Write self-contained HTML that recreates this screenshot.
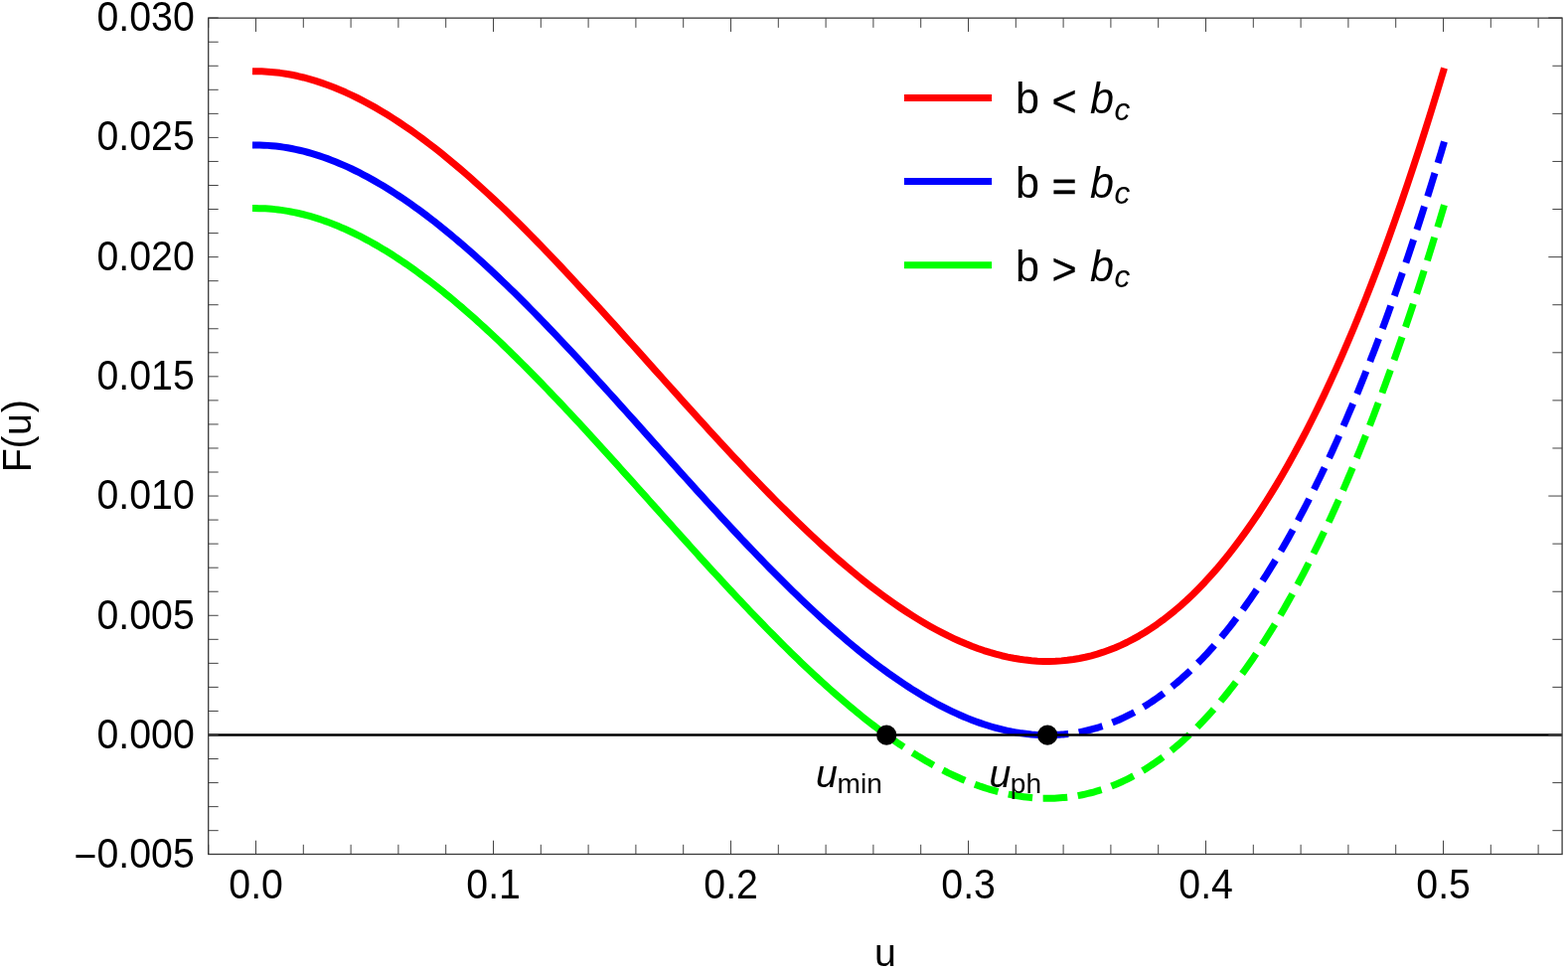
<!DOCTYPE html>
<html><head><meta charset="utf-8"><title>F(u)</title>
<style>
html,body{margin:0;padding:0;background:#fff;}
body{width:1578px;height:978px;overflow:hidden;}
svg{display:block;font-family:"Liberation Sans",sans-serif;}
.t{font-size:39.3px;fill:#000;}
.l{font-size:43.2px;fill:#000;}
.i{font-style:italic;}
</style></head><body>
<svg width="1578" height="978" viewBox="0 0 1578 978">
<rect x="0" y="0" width="1578" height="978" fill="#fff"/>

<g fill="none" stroke-width="7.0" stroke-linejoin="round" stroke-linecap="square" transform="translate(0,0.35)">
<path d="M257.50,71.41 L263.51,71.51 L269.51,71.81 L275.52,72.31 L281.52,73.00 L287.53,73.88 L293.53,74.94 L299.54,76.20 L305.54,77.63 L311.55,79.24 L317.55,81.02 L323.56,82.98 L329.56,85.10 L335.57,87.40 L341.57,89.85 L347.58,92.46 L353.58,95.23 L359.59,98.16 L365.59,101.23 L371.60,104.45 L377.60,107.82 L383.61,111.33 L389.61,114.97 L395.62,118.76 L401.62,122.67 L407.63,126.71 L413.63,130.88 L419.64,135.17 L425.64,139.58 L431.65,144.11 L437.65,148.75 L443.66,153.51 L449.66,158.37 L455.67,163.34 L461.67,168.40 L467.68,173.57 L473.68,178.83 L479.69,184.19 L485.69,189.63 L491.70,195.16 L497.70,200.78 L503.71,206.47 L509.71,212.24 L515.72,218.09 L521.72,224.00 L527.73,229.99 L533.73,236.04 L539.74,242.15 L545.74,248.32 L551.75,254.55 L557.75,260.83 L563.76,267.16 L569.76,273.54 L575.77,279.96 L581.77,286.42 L587.78,292.92 L593.78,299.45 L599.79,306.01 L605.79,312.61 L611.80,319.23 L617.80,325.87 L623.81,332.53 L629.81,339.20 L635.82,345.89 L641.82,352.59 L647.83,359.30 L653.83,366.01 L659.84,372.73 L665.84,379.44 L671.85,386.14 L677.85,392.84 L683.86,399.52 L689.86,406.20 L695.87,412.85 L701.87,419.48 L707.88,426.09 L713.88,432.68 L719.89,439.23 L725.89,445.76 L731.90,452.24 L737.90,458.69 L743.91,465.10 L749.91,471.46 L755.92,477.77 L761.92,484.03 L767.93,490.24 L773.93,496.39 L779.94,502.49 L785.94,508.51 L791.95,514.48 L797.95,520.37 L803.96,526.19 L809.96,531.94 L815.97,537.61 L821.97,543.19 L827.98,548.70 L833.98,554.11 L839.99,559.43 L845.99,564.66 L852.00,569.80 L858.00,574.83 L864.01,579.76 L870.01,584.59 L876.02,589.31 L882.02,593.91 L888.03,598.40 L894.03,602.77 L900.04,607.02 L906.04,611.15 L912.05,615.15 L918.05,619.02 L924.06,622.76 L930.06,626.36 L936.07,629.82 L942.07,633.14 L948.08,636.31 L954.08,639.34 L960.09,642.21 L966.09,644.93 L972.10,647.49 L978.10,649.89 L984.11,652.12 L990.11,654.19 L996.12,656.09 L1002.12,657.82 L1008.13,659.37 L1014.13,660.74 L1020.14,661.93 L1026.14,662.94 L1032.15,663.75 L1038.15,664.38 L1044.16,664.81 L1050.16,665.05 L1056.17,665.08 L1062.17,664.91 L1068.18,664.53 L1074.18,663.95 L1080.19,663.15 L1086.19,662.13 L1092.20,660.90 L1098.20,659.45 L1104.21,657.77 L1110.21,655.86 L1116.22,653.72 L1122.22,651.35 L1128.23,648.74 L1134.23,645.89 L1140.24,642.80 L1146.24,639.47 L1152.25,635.88 L1158.25,632.04 L1164.26,627.94 L1170.26,623.59 L1176.27,618.98 L1182.27,614.10 L1188.28,608.95 L1194.28,603.54 L1200.29,597.85 L1206.29,591.88 L1212.30,585.63 L1218.30,579.10 L1224.31,572.29 L1230.31,565.18 L1236.32,557.79 L1242.32,550.10 L1248.33,542.11 L1254.33,533.82 L1260.34,525.23 L1266.34,516.33 L1272.35,507.11 L1278.35,497.59 L1284.36,487.75 L1290.36,477.59 L1296.37,467.11 L1302.37,456.30 L1308.38,445.16 L1314.38,433.70 L1320.39,421.89 L1326.39,409.75 L1332.40,397.27 L1338.40,384.45 L1344.41,371.28 L1350.41,357.76 L1356.42,343.88 L1362.42,329.65 L1368.43,315.06 L1374.43,300.11 L1380.44,284.79 L1386.44,269.11 L1392.45,253.05 L1398.45,236.62 L1404.46,219.82 L1410.46,202.63 L1416.47,185.06 L1422.47,167.10 L1428.48,148.75 L1434.48,130.02 L1440.49,110.88 L1446.49,91.35 L1452.50,71.41" stroke="#f00"/>
<path d="M257.50,145.62 L261.50,145.67 L265.51,145.80 L269.51,146.02 L273.51,146.33 L277.52,146.73 L281.52,147.21 L285.52,147.77 L289.53,148.42 L293.53,149.15 L297.53,149.97 L301.54,150.86 L305.54,151.84 L309.54,152.89 L313.55,154.02 L317.55,155.23 L321.55,156.52 L325.56,157.88 L329.56,159.31 L333.56,160.82 L337.57,162.41 L341.57,164.06 L345.57,165.78 L349.58,167.58 L353.58,169.44 L357.58,171.38 L361.59,173.38 L365.59,175.44 L369.59,177.57 L373.60,179.77 L377.60,182.03 L381.60,184.35 L385.61,186.74 L389.61,189.18 L393.61,191.69 L397.62,194.25 L401.62,196.88 L405.62,199.56 L409.63,202.30 L413.63,205.09 L417.63,207.94 L421.64,210.84 L425.64,213.79 L429.64,216.80 L433.65,219.86 L437.65,222.96 L441.65,226.12 L445.66,229.33 L449.66,232.58 L453.66,235.88 L457.67,239.22 L461.67,242.61 L465.67,246.05 L469.68,249.52 L473.68,253.04 L477.68,256.60 L481.69,260.20 L485.69,263.84 L489.69,267.52 L493.70,271.23 L497.70,274.98 L501.70,278.77 L505.71,282.59 L509.71,286.45 L513.71,290.34 L517.72,294.26 L521.72,298.21 L525.72,302.20 L529.73,306.21 L533.73,310.25 L537.73,314.32 L541.74,318.41 L545.74,322.53 L549.74,326.68 L553.75,330.85 L557.75,335.04 L561.75,339.25 L565.76,343.49 L569.76,347.75 L573.76,352.02 L577.77,356.32 L581.77,360.63 L585.77,364.96 L589.78,369.30 L593.78,373.66 L597.78,378.03 L601.79,382.42 L605.79,386.82 L609.79,391.23 L613.80,395.65 L617.80,400.08 L621.80,404.52 L625.81,408.96 L629.81,413.41 L633.81,417.87 L637.82,422.34 L641.82,426.80 L645.82,431.28 L649.83,435.75 L653.83,440.22 L657.84,444.70 L661.84,449.17 L665.84,453.65 L669.85,458.12 L673.85,462.58 L677.85,467.05 L681.86,471.51 L685.86,475.96 L689.86,480.41 L693.87,484.84 L697.87,489.27 L701.87,493.69 L705.88,498.10 L709.88,502.50 L713.88,506.89 L717.89,511.26 L721.89,515.62 L725.89,519.96 L729.90,524.29 L733.90,528.61 L737.90,532.90 L741.91,537.17 L745.91,541.43 L749.91,545.67 L753.92,549.88 L757.92,554.07 L761.92,558.24 L765.93,562.39 L769.93,566.51 L773.93,570.60 L777.94,574.67 L781.94,578.71 L785.94,582.72 L789.95,586.71 L793.95,590.66 L797.95,594.58 L801.96,598.47 L805.96,602.33 L809.96,606.15 L813.97,609.94 L817.97,613.69 L821.97,617.40 L825.98,621.08 L829.98,624.72 L833.98,628.32 L837.99,631.88 L841.99,635.40 L845.99,638.87 L850.00,642.31 L854.00,645.70 L858.00,649.04 L862.01,652.34 L866.01,655.59 L870.01,658.80 L874.02,661.96 L878.02,665.06 L882.02,668.12 L886.03,671.13 L890.03,674.08 L894.03,676.98 L898.04,679.83 L902.04,682.62 L906.04,685.36 L910.05,688.04 L914.05,690.67 L918.05,693.23 L922.06,695.74 L926.06,698.18 L930.06,700.57 L934.07,702.89 L938.07,705.15 L942.07,707.35 L946.08,709.48 L950.08,711.55 L954.08,713.55 L958.09,715.48 L962.09,717.34 L966.09,719.14 L970.10,720.86 L974.10,722.52 L978.10,724.10 L982.11,725.61 L986.11,727.04 L990.11,728.40 L994.12,729.69 L998.12,730.90 L1002.12,732.03 L1006.13,733.08 L1010.13,734.06 L1014.13,734.95 L1018.14,735.77 L1022.14,736.50 L1026.14,737.15 L1030.15,737.71 L1034.15,738.19 L1038.15,738.59 L1042.16,738.90 L1046.16,739.12 L1050.16,739.26 L1054.17,739.30" stroke="#00f"/>
<path d="M1054.17,739.30 L1056.17,739.29 L1058.17,739.25 L1060.17,739.20 L1062.17,739.12 L1064.18,739.02 L1066.18,738.89 L1068.18,738.74 L1070.18,738.57 L1072.18,738.38 L1074.18,738.16 L1076.19,737.91 L1078.19,737.65 L1080.19,737.36 L1082.19,737.04 L1084.19,736.71 L1086.19,736.34 L1088.20,735.96 L1090.20,735.55 L1092.20,735.11 L1094.20,734.65 L1096.20,734.17 L1098.20,733.66 L1100.21,733.12 L1102.21,732.56 L1104.21,731.98 L1106.21,731.37 L1108.21,730.73 L1110.21,730.07 L1112.22,729.38 L1114.22,728.67 L1116.22,727.93 L1118.22,727.17 L1120.22,726.38 L1122.22,725.56 L1124.23,724.72 L1126.23,723.85 L1128.23,722.95 L1130.23,722.03 L1132.23,721.08 L1134.23,720.10 L1136.24,719.10 L1138.24,718.07 L1140.24,717.01 L1142.24,715.93 L1144.24,714.82 L1146.24,713.68 L1148.25,712.51 L1150.25,711.31 L1152.25,710.09 L1154.25,708.84 L1156.25,707.56 L1158.25,706.25 L1160.26,704.91 L1162.26,703.55 L1164.26,702.15 L1166.26,700.73 L1168.26,699.28 L1170.26,697.80 L1172.27,696.29 L1174.27,694.75 L1176.27,693.19 L1178.27,691.59 L1180.27,689.96 L1182.27,688.31 L1184.28,686.62 L1186.28,684.91 L1188.28,683.16 L1190.28,681.39 L1192.28,679.58 L1194.28,677.75 L1196.29,675.88 L1198.29,673.98 L1200.29,672.06 L1202.29,670.10 L1204.29,668.11 L1206.29,666.09 L1208.30,664.04 L1210.30,661.96 L1212.30,659.84 L1214.30,657.70 L1216.30,655.52 L1218.30,653.31 L1220.31,651.07 L1222.31,648.80 L1224.31,646.50 L1226.31,644.16 L1228.31,641.79 L1230.31,639.39 L1232.32,636.96 L1234.32,634.50 L1236.32,632.00 L1238.32,629.47 L1240.32,626.90 L1242.32,624.31 L1244.33,621.68 L1246.33,619.02 L1248.33,616.32 L1250.33,613.59 L1252.33,610.83 L1254.33,608.03 L1256.34,605.20 L1258.34,602.33 L1260.34,599.44 L1262.34,596.50 L1264.34,593.54 L1266.34,590.54 L1268.35,587.50 L1270.35,584.43 L1272.35,581.32 L1274.35,578.18 L1276.35,575.01 L1278.35,571.80 L1280.36,568.56 L1282.36,565.27 L1284.36,561.96 L1286.36,558.61 L1288.36,555.22 L1290.36,551.80 L1292.37,548.34 L1294.37,544.85 L1296.37,541.32 L1298.37,537.75 L1300.37,534.15 L1302.37,530.51 L1304.38,526.83 L1306.38,523.12 L1308.38,519.37 L1310.38,515.59 L1312.38,511.76 L1314.38,507.91 L1316.39,504.01 L1318.39,500.07 L1320.39,496.10 L1322.39,492.09 L1324.39,488.05 L1326.39,483.96 L1328.40,479.84 L1330.40,475.68 L1332.40,471.48 L1334.40,467.25 L1336.40,462.97 L1338.40,458.66 L1340.41,454.31 L1342.41,449.92 L1344.41,445.49 L1346.41,441.02 L1348.41,436.51 L1350.41,431.96 L1352.42,427.38 L1354.42,422.75 L1356.42,418.09 L1358.42,413.39 L1360.42,408.64 L1362.42,403.86 L1364.43,399.04 L1366.43,394.17 L1368.43,389.27 L1370.43,384.33 L1372.43,379.34 L1374.43,374.32 L1376.44,369.26 L1378.44,364.15 L1380.44,359.00 L1382.44,353.82 L1384.44,348.59 L1386.44,343.32 L1388.45,338.01 L1390.45,332.66 L1392.45,327.26 L1394.45,321.83 L1396.45,316.35 L1398.45,310.83 L1400.46,305.27 L1402.46,299.67 L1404.46,294.03 L1406.46,288.34 L1408.46,282.61 L1410.46,276.84 L1412.47,271.03 L1414.47,265.17 L1416.47,259.27 L1418.47,253.33 L1420.47,247.34 L1422.47,241.31 L1424.48,235.24 L1426.48,229.12 L1428.48,222.96 L1430.48,216.76 L1432.48,210.52 L1434.48,204.23 L1436.49,197.89 L1438.49,191.51 L1440.49,185.09 L1442.49,178.62 L1444.49,172.11 L1446.49,165.56 L1448.50,158.96 L1450.50,152.31 L1452.50,145.62" stroke="#00f" stroke-dasharray="17.59 17.59"/>
<path d="M257.50,209.25 L260.69,209.28 L263.88,209.36 L267.07,209.50 L270.26,209.70 L273.45,209.95 L276.64,210.26 L279.83,210.62 L283.02,211.04 L286.20,211.51 L289.39,212.03 L292.58,212.60 L295.77,213.23 L298.96,213.91 L302.15,214.64 L305.34,215.42 L308.53,216.25 L311.72,217.13 L314.91,218.05 L318.10,219.03 L321.29,220.06 L324.48,221.13 L327.67,222.25 L330.86,223.42 L334.05,224.64 L337.23,225.90 L340.42,227.21 L343.61,228.56 L346.80,229.96 L349.99,231.40 L353.18,232.88 L356.37,234.41 L359.56,235.98 L362.75,237.60 L365.94,239.25 L369.13,240.95 L372.32,242.69 L375.51,244.47 L378.70,246.29 L381.89,248.15 L385.08,250.05 L388.26,251.98 L391.45,253.96 L394.64,255.97 L397.83,258.02 L401.02,260.11 L404.21,262.24 L407.40,264.40 L410.59,266.59 L413.78,268.82 L416.97,271.09 L420.16,273.39 L423.35,275.72 L426.54,278.09 L429.73,280.49 L432.92,282.92 L436.11,285.39 L439.30,287.88 L442.48,290.41 L445.67,292.97 L448.86,295.56 L452.05,298.17 L455.24,300.82 L458.43,303.50 L461.62,306.20 L464.81,308.93 L468.00,311.69 L471.19,314.48 L474.38,317.29 L477.57,320.13 L480.76,322.99 L483.95,325.88 L487.14,328.79 L490.33,331.73 L493.51,334.69 L496.70,337.68 L499.89,340.68 L503.08,343.71 L506.27,346.77 L509.46,349.84 L512.65,352.93 L515.84,356.05 L519.03,359.18 L522.22,362.34 L525.41,365.51 L528.60,368.70 L531.79,371.91 L534.98,375.14 L538.17,378.39 L541.36,381.65 L544.55,384.93 L547.73,388.22 L550.92,391.53 L554.11,394.86 L557.30,398.20 L560.49,401.55 L563.68,404.92 L566.87,408.30 L570.06,411.69 L573.25,415.10 L576.44,418.52 L579.63,421.95 L582.82,425.39 L586.01,428.84 L589.20,432.30 L592.39,435.77 L595.58,439.25 L598.76,442.73 L601.95,446.23 L605.14,449.73 L608.33,453.24 L611.52,456.76 L614.71,460.29 L617.90,463.82 L621.09,467.35 L624.28,470.89 L627.47,474.44 L630.66,477.99 L633.85,481.54 L637.04,485.09 L640.23,488.65 L643.42,492.21 L646.61,495.78 L649.79,499.34 L652.98,502.90 L656.17,506.47 L659.36,510.03 L662.55,513.60 L665.74,517.16 L668.93,520.73 L672.12,524.29 L675.31,527.84 L678.50,531.40 L681.69,534.95 L684.88,538.50 L688.07,542.04 L691.26,545.58 L694.45,549.12 L697.64,552.64 L700.83,556.17 L704.01,559.68 L707.20,563.19 L710.39,566.70 L713.58,570.19 L716.77,573.68 L719.96,577.15 L723.15,580.62 L726.34,584.08 L729.53,587.53 L732.72,590.97 L735.91,594.39 L739.10,597.81 L742.29,601.21 L745.48,604.60 L748.67,607.98 L751.86,611.34 L755.04,614.70 L758.23,618.03 L761.42,621.35 L764.61,624.66 L767.80,627.95 L770.99,631.23 L774.18,634.49 L777.37,637.73 L780.56,640.95 L783.75,644.16 L786.94,647.35 L790.13,650.52 L793.32,653.67 L796.51,656.80 L799.70,659.91 L802.89,663.00 L806.07,666.07 L809.26,669.11 L812.45,672.14 L815.64,675.14 L818.83,678.12 L822.02,681.08 L825.21,684.01 L828.40,686.92 L831.59,689.80 L834.78,692.66 L837.97,695.49 L841.16,698.30 L844.35,701.08 L847.54,703.83 L850.73,706.56 L853.92,709.26 L857.11,711.93 L860.29,714.57 L863.48,717.18 L866.67,719.76 L869.86,722.31 L873.05,724.83 L876.24,727.32 L879.43,729.78 L882.62,732.20 L885.81,734.60 L889.00,736.96 L892.19,739.28" stroke="#0f0"/>
<path d="M892.19,739.28 L895.00,741.31 L897.82,743.31 L900.64,745.28 L903.45,747.22 L906.27,749.14 L909.08,751.03 L911.90,752.89 L914.71,754.72 L917.53,756.53 L920.34,758.30 L923.16,760.05 L925.98,761.76 L928.79,763.45 L931.61,765.10 L934.42,766.72 L937.24,768.32 L940.05,769.88 L942.87,771.41 L945.69,772.90 L948.50,774.37 L951.32,775.80 L954.13,777.20 L956.95,778.56 L959.76,779.90 L962.58,781.19 L965.39,782.46 L968.21,783.69 L971.03,784.88 L973.84,786.04 L976.66,787.16 L979.47,788.25 L982.29,789.30 L985.10,790.32 L987.92,791.30 L990.74,792.24 L993.55,793.14 L996.37,794.01 L999.18,794.84 L1002.00,795.63 L1004.81,796.38 L1007.63,797.09 L1010.45,797.76 L1013.26,798.39 L1016.08,798.99 L1018.89,799.54 L1021.71,800.05 L1024.52,800.52 L1027.34,800.95 L1030.15,801.34 L1032.97,801.69 L1035.79,802.00 L1038.60,802.26 L1041.42,802.48 L1044.23,802.65 L1047.05,802.79 L1049.86,802.88 L1052.68,802.92 L1055.50,802.92 L1058.31,802.88 L1061.13,802.79 L1063.94,802.66 L1066.76,802.48 L1069.57,802.25 L1072.39,801.98 L1075.20,801.67 L1078.02,801.30 L1080.84,800.89 L1083.65,800.43 L1086.47,799.92 L1089.28,799.37 L1092.10,798.76 L1094.91,798.11 L1097.73,797.41 L1100.55,796.66 L1103.36,795.86 L1106.18,795.01 L1108.99,794.11 L1111.81,793.16 L1114.62,792.15 L1117.44,791.10 L1120.25,789.99 L1123.07,788.84 L1125.89,787.63 L1128.70,786.37 L1131.52,785.05 L1134.33,783.68 L1137.15,782.26 L1139.96,780.79 L1142.78,779.26 L1145.60,777.68 L1148.41,776.04 L1151.23,774.35 L1154.04,772.60 L1156.86,770.79 L1159.67,768.93 L1162.49,767.02 L1165.31,765.04 L1168.12,763.01 L1170.94,760.93 L1173.75,758.78 L1176.57,756.58 L1179.38,754.32 L1182.20,752.00 L1185.01,749.62 L1187.83,747.19 L1190.65,744.69 L1193.46,742.13 L1196.28,739.52 L1199.09,736.84 L1201.91,734.10 L1204.72,731.31 L1207.54,728.45 L1210.36,725.52 L1213.17,722.54 L1215.99,719.50 L1218.80,716.39 L1221.62,713.22 L1224.43,709.98 L1227.25,706.69 L1230.06,703.32 L1232.88,699.90 L1235.70,696.41 L1238.51,692.85 L1241.33,689.23 L1244.14,685.55 L1246.96,681.80 L1249.77,677.98 L1252.59,674.10 L1255.41,670.15 L1258.22,666.13 L1261.04,662.05 L1263.85,657.90 L1266.67,653.68 L1269.48,649.39 L1272.30,645.03 L1275.11,640.61 L1277.93,636.11 L1280.75,631.55 L1283.56,626.91 L1286.38,622.21 L1289.19,617.44 L1292.01,612.59 L1294.82,607.67 L1297.64,602.69 L1300.46,597.63 L1303.27,592.50 L1306.09,587.29 L1308.90,582.02 L1311.72,576.67 L1314.53,571.24 L1317.35,565.75 L1320.17,560.18 L1322.98,554.53 L1325.80,548.82 L1328.61,543.02 L1331.43,537.15 L1334.24,531.21 L1337.06,525.19 L1339.87,519.09 L1342.69,512.92 L1345.51,506.67 L1348.32,500.35 L1351.14,493.94 L1353.95,487.46 L1356.77,480.90 L1359.58,474.27 L1362.40,467.55 L1365.22,460.75 L1368.03,453.88 L1370.85,446.93 L1373.66,439.89 L1376.48,432.78 L1379.29,425.59 L1382.11,418.31 L1384.92,410.95 L1387.74,403.52 L1390.56,396.00 L1393.37,388.40 L1396.19,380.71 L1399.00,372.95 L1401.82,365.10 L1404.63,357.16 L1407.45,349.15 L1410.27,341.05 L1413.08,332.86 L1415.90,324.59 L1418.71,316.24 L1421.53,307.80 L1424.34,299.27 L1427.16,290.66 L1429.97,281.97 L1432.79,273.18 L1435.61,264.31 L1438.42,255.35 L1441.24,246.31 L1444.05,237.18 L1446.87,227.96 L1449.68,218.65 L1452.50,209.25" stroke="#0f0" stroke-dasharray="17.59 17.59"/>
</g>
<line x1="209.7" y1="739.50" x2="1572.1" y2="739.50" stroke="#000" stroke-width="2.5"/>
<circle cx="892.19" cy="739.70" r="10.1" fill="#000"/>
<circle cx="1054.17" cy="739.70" r="10.1" fill="#000"/>
<rect x="209.7" y="18.15" width="1362.3999999999999" height="841.35" fill="none" stroke="#3a3a3a" stroke-width="1.3"/>
<path d="M209.70,859.5v-9.7M209.70,18.15v9.7M257.50,859.5v-13.8M257.50,18.15v13.8M305.30,859.5v-9.7M305.30,18.15v9.7M353.10,859.5v-9.7M353.10,18.15v9.7M400.90,859.5v-9.7M400.90,18.15v9.7M448.70,859.5v-9.7M448.70,18.15v9.7M496.50,859.5v-13.8M496.50,18.15v13.8M544.30,859.5v-9.7M544.30,18.15v9.7M592.10,859.5v-9.7M592.10,18.15v9.7M639.90,859.5v-9.7M639.90,18.15v9.7M687.70,859.5v-9.7M687.70,18.15v9.7M735.50,859.5v-13.8M735.50,18.15v13.8M783.30,859.5v-9.7M783.30,18.15v9.7M831.10,859.5v-9.7M831.10,18.15v9.7M878.90,859.5v-9.7M878.90,18.15v9.7M926.70,859.5v-9.7M926.70,18.15v9.7M974.50,859.5v-13.8M974.50,18.15v13.8M1022.30,859.5v-9.7M1022.30,18.15v9.7M1070.10,859.5v-9.7M1070.10,18.15v9.7M1117.90,859.5v-9.7M1117.90,18.15v9.7M1165.70,859.5v-9.7M1165.70,18.15v9.7M1213.50,859.5v-13.8M1213.50,18.15v13.8M1261.30,859.5v-9.7M1261.30,18.15v9.7M1309.10,859.5v-9.7M1309.10,18.15v9.7M1356.90,859.5v-9.7M1356.90,18.15v9.7M1404.70,859.5v-9.7M1404.70,18.15v9.7M1452.50,859.5v-13.8M1452.50,18.15v13.8M1500.30,859.5v-9.7M1500.30,18.15v9.7M1548.10,859.5v-9.7M1548.10,18.15v9.7M209.7,859.52h10M209.7,835.68h10M1572.1,835.68h-9.7M209.7,811.63h10M209.7,787.59h10M1572.1,787.59h-9.7M209.7,763.54h10M209.7,739.50h10M1572.1,739.50h-13.8M209.7,715.46h10M209.7,691.41h10M1572.1,691.41h-9.7M209.7,667.37h10M209.7,643.32h10M1572.1,643.32h-9.7M209.7,619.28h10M209.7,595.24h10M1572.1,595.24h-9.7M209.7,571.19h10M209.7,547.15h10M1572.1,547.15h-9.7M209.7,523.10h10M209.7,499.06h10M1572.1,499.06h-13.8M209.7,475.02h10M209.7,450.97h10M1572.1,450.97h-9.7M209.7,426.93h10M209.7,402.88h10M1572.1,402.88h-9.7M209.7,378.84h10M209.7,354.80h10M1572.1,354.80h-9.7M209.7,330.75h10M209.7,306.71h10M1572.1,306.71h-9.7M209.7,282.66h10M209.7,258.62h10M1572.1,258.62h-13.8M209.7,234.58h10M209.7,210.53h10M1572.1,210.53h-9.7M209.7,186.49h10M209.7,162.44h10M1572.1,162.44h-9.7M209.7,138.40h10M209.7,114.36h10M1572.1,114.36h-9.7M209.7,90.31h10M209.7,66.27h10M1572.1,66.27h-9.7M209.7,42.22h10M209.7,17.98h10M1572.1,17.98h-13.8" fill="none" stroke="#3a3a3a" stroke-width="0.95"/>
<text class="t" transform="translate(257.60,904.40) scale(1,1.088)" text-anchor="middle">0.0</text>
<text class="t" transform="translate(496.60,904.40) scale(1,1.088)" text-anchor="middle">0.1</text>
<text class="t" transform="translate(735.60,904.40) scale(1,1.088)" text-anchor="middle">0.2</text>
<text class="t" transform="translate(974.60,904.40) scale(1,1.088)" text-anchor="middle">0.3</text>
<text class="t" transform="translate(1213.60,904.40) scale(1,1.088)" text-anchor="middle">0.4</text>
<text class="t" transform="translate(1452.60,904.40) scale(1,1.088)" text-anchor="middle">0.5</text>
<text class="t" transform="translate(195.80,873.07) scale(1,1.088)" text-anchor="end"><tspan dy="2.75">−</tspan><tspan dy="-2.75">0.005</tspan></text>
<text class="t" transform="translate(195.80,752.79) scale(1,1.088)" text-anchor="end">0.000</text>
<text class="t" transform="translate(195.80,632.50) scale(1,1.088)" text-anchor="end">0.005</text>
<text class="t" transform="translate(195.80,512.22) scale(1,1.088)" text-anchor="end">0.010</text>
<text class="t" transform="translate(195.80,391.93) scale(1,1.088)" text-anchor="end">0.015</text>
<text class="t" transform="translate(195.80,271.65) scale(1,1.088)" text-anchor="end">0.020</text>
<text class="t" transform="translate(195.80,151.36) scale(1,1.088)" text-anchor="end">0.025</text>
<text class="t" transform="translate(195.80,31.08) scale(1,1.088)" text-anchor="end">0.030</text>
<text class="t" transform="translate(891.00,972.00) scale(1,1.0)" text-anchor="middle">u</text>
<text class="t" transform="translate(30.8,475.35) rotate(-90) scale(1,1.045)" x="0 23.75 37.24 59.99">F(u)</text>
<line x1="909.9" y1="98.40" x2="998.1" y2="98.40" stroke="#f00" stroke-width="7.0"/>
<text class="l" transform="translate(1022.10,114.30) scale(1,1.007)" text-anchor="start">b <tspan x="36.5" dy="3.1" stroke="#000" stroke-width="0.3">&lt; </tspan><tspan class="i" x="75.0" dy="-3.1">b</tspan><tspan class="i" dx="0.4" dy="6.4" font-size="31.5">c</tspan></text>
<line x1="909.9" y1="182.60" x2="998.1" y2="182.60" stroke="#00f" stroke-width="7.0"/>
<text class="l" transform="translate(1022.10,198.50) scale(1,1.007)" text-anchor="start">b <tspan x="36.5" dy="3.1" stroke="#000" stroke-width="0.3">= </tspan><tspan class="i" x="75.0" dy="-3.1">b</tspan><tspan class="i" dx="0.4" dy="6.4" font-size="31.5">c</tspan></text>
<line x1="909.9" y1="266.80" x2="998.1" y2="266.80" stroke="#0f0" stroke-width="7.0"/>
<text class="l" transform="translate(1022.10,282.70) scale(1,1.007)" text-anchor="start">b <tspan x="36.5" dy="3.1" stroke="#000" stroke-width="0.3">&gt; </tspan><tspan class="i" x="75.0" dy="-3.1">b</tspan><tspan class="i" dx="0.4" dy="6.4" font-size="31.5">c</tspan></text>
<text class="t" transform="translate(821.00,792.30) scale(1,0.99)" text-anchor="start"><tspan class="i">u</tspan><tspan dx="-0.3" dy="5.7" font-size="28.1">min</tspan></text>
<text class="t" transform="translate(995.50,792.30) scale(1,0.99)" text-anchor="start"><tspan class="i">u</tspan><tspan dx="-0.5" dy="5.7" font-size="28.1">ph</tspan></text>
</svg></body></html>
